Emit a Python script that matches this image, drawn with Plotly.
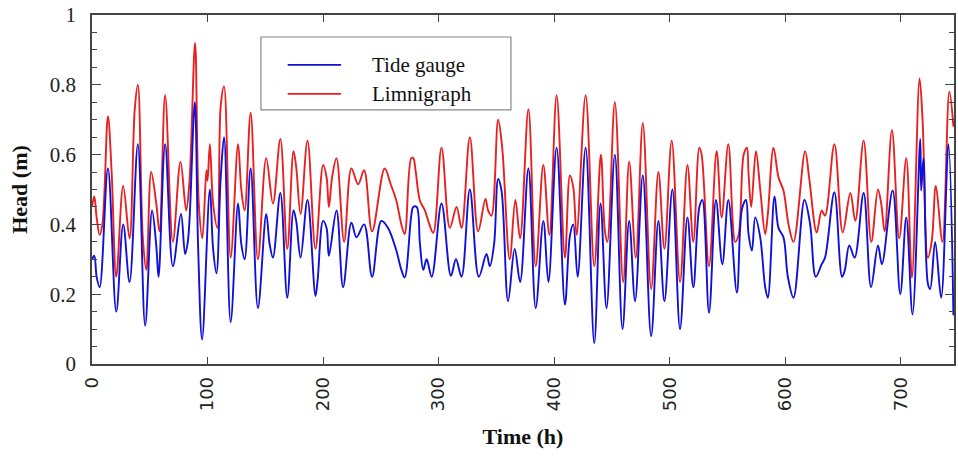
import plotly.graph_objects as go

# ---- data (hour, head in m) ----
tide_hours = [0, 2, 4, 6.6, 13.8, 21, 27, 32.5, 39.7, 46, 52, 55.6, 57.6, 63.3, 70, 77, 80.6, 82.9, 84.5, 89,
              91.8, 95.3, 102, 104.8, 107.7, 111.4, 114.3, 120, 126.4, 129.2, 132.1, 137.3, 143.6, 150.8, 153.7,
              156.6, 163, 169, 174.4, 176.7, 180.5,
              186.5, 193.4, 195.2, 200, 203, 205, 211.6, 217.3, 224.5, 228.9, 235.5, 242.4, 250.4, 256.2, 263.4,
              267.7, 270.6, 276.3,
              278, 281, 283.8, 286.7, 289.6, 294, 302.5, 310.6, 315, 319.8, 327, 334.8, 341.4, 344.3, 348, 351.5,
              354.4, 360.1, 365.8,
              370.5, 377.7, 384, 390.6, 395, 402.1, 409.3, 413.6, 416.5, 420.3, 427.2, 434.7, 440.1, 445.3, 452.5,
              459.1,
              464.9, 470, 476.7, 483.9, 490.2, 495.4, 502.3, 508.9, 515.3, 520.4, 525.6, 528.2, 534, 540, 545.5,
              550.7,
              558.1, 562.5, 566, 568.2, 571.1, 574, 578.3, 582.6, 584.9, 590.7, 594.1, 598.4, 602.2, 607.1, 616.6,
              621.5, 626.4, 631.5, 634.4, 642.5,
              649.1, 651.4, 655.4, 660, 667.8, 674.2, 680.2, 683.6, 692.9, 699.5, 704.7, 710.1, 716.8, 717.6,
              719.6, 723.4, 725.4, 729.7, 734.9, 741.2, 745.5]
tide_head = [0.30, 0.31, 0.25, 0.22, 0.56, 0.15, 0.40, 0.235, 0.63, 0.11, 0.44, 0.34, 0.25, 0.63, 0.28, 0.43, 0.315, 0.35, 0.42, 0.75,
             0.34, 0.07, 0.50, 0.33, 0.26, 0.535, 0.65, 0.12, 0.46, 0.344, 0.30, 0.56, 0.16, 0.43, 0.344,
             0.305, 0.49, 0.19, 0.44, 0.41, 0.305,
             0.47, 0.195, 0.238, 0.41, 0.39, 0.31, 0.44, 0.22, 0.405, 0.363, 0.40, 0.25, 0.41, 0.39, 0.325,
             0.27, 0.248, 0.425,
             0.45, 0.45, 0.344, 0.27, 0.30, 0.25, 0.46, 0.253, 0.30, 0.25, 0.50, 0.25, 0.315, 0.28, 0.344, 0.53,
             0.497, 0.18, 0.33,
             0.235, 0.56, 0.16, 0.41, 0.235, 0.62, 0.17, 0.367, 0.40, 0.25, 0.62, 0.06, 0.46, 0.16, 0.60,
             0.10,
             0.41, 0.18, 0.54, 0.08, 0.41, 0.18, 0.50, 0.10, 0.42, 0.22, 0.45, 0.47, 0.147, 0.47, 0.286,
             0.47,
             0.205, 0.444, 0.47, 0.372, 0.325, 0.42, 0.363, 0.22, 0.19, 0.48, 0.39, 0.363, 0.25, 0.19, 0.47,
             0.40, 0.25, 0.286, 0.305, 0.492,
             0.25, 0.267, 0.34, 0.305, 0.49, 0.22, 0.34, 0.286, 0.497, 0.20, 0.42, 0.142, 0.645, 0.497,
             0.59, 0.23, 0.215, 0.35, 0.19, 0.63, 0.14]

limni_hours = [0, 2, 4, 6.6, 9, 13.8, 17, 21, 27, 32.5, 37, 39.7, 44, 47, 51.2, 55.6, 58.4, 63.3, 70, 76.6, 81.5,
               84.3, 89.2,
               92.4, 95.5, 99, 100, 102, 104.8, 108.5, 111.4, 114.3, 120, 126.4, 129.2, 132.1, 137.3, 143.6, 150.8,
               156.6, 163, 169, 174.4, 176.7, 180.5,
               186.5, 193.4, 200, 203, 205, 207.8, 211.6, 218.2, 224.5, 230.3, 235.5, 242.4, 253.3, 258.5, 263.4,
               267.7, 270.6, 276.3,
               278, 280, 283.8, 288.1, 291, 295.3, 302.5, 309.7, 315.5, 319.8, 327, 334.2, 340.5, 342.8, 345.7,
               351.5, 355, 361.5, 366.4,
               370.5, 377.7, 384, 390.6, 395.8, 402.1, 409.3, 413.6, 416.5, 419.4, 427.2, 434.7, 440.4, 443.9, 446,
               452.5, 459.7,
               464.9, 470.6, 476.7, 483.9, 490.2, 495.4, 501.7, 508.9, 515.3, 520.4, 525.6, 527.6, 534, 540.6,
               544.9, 550.7,
               556.7, 559.6, 564, 566.8, 568.2, 570.5, 574.6, 578.3, 582.6, 584.9, 589.8, 594.1, 598.4, 602.8,
               607.1, 617.2, 620.6, 627.2, 631.5, 634.4, 642.5,
               649.7, 656.3, 660.6, 667.8, 674.4, 680.2, 683, 686, 692.3, 698.6, 704.7, 709.6, 716.2, 718.8, 723.4,
               726.8, 730.3, 736, 742, 745.5]
limni_head = [0.45, 0.48, 0.42, 0.37, 0.40, 0.71, 0.55, 0.25, 0.51, 0.36, 0.73, 0.80, 0.36, 0.27, 0.55, 0.46, 0.38, 0.77, 0.35, 0.58, 0.44,
              0.52, 0.92,
              0.46, 0.36, 0.555, 0.525, 0.63, 0.46, 0.39, 0.74, 0.795, 0.305, 0.63, 0.50, 0.44, 0.72, 0.30, 0.59,
              0.46, 0.645, 0.33, 0.61, 0.565, 0.43,
              0.64, 0.33, 0.57, 0.535, 0.45, 0.535, 0.59, 0.35, 0.56, 0.515, 0.555, 0.38, 0.56, 0.515, 0.468,
              0.40, 0.372, 0.59,
              0.59, 0.555, 0.468, 0.44, 0.41, 0.376, 0.62, 0.39, 0.45, 0.39, 0.65, 0.38, 0.473, 0.44, 0.425,
              0.70, 0.62, 0.30, 0.47,
              0.36, 0.73, 0.28, 0.57, 0.37, 0.77, 0.305, 0.54, 0.506, 0.37, 0.77, 0.28, 0.60, 0.38, 0.35,
              0.75, 0.235,
              0.58, 0.305, 0.69, 0.215, 0.55, 0.33, 0.64, 0.235, 0.57, 0.35, 0.62, 0.60, 0.28, 0.61,
              0.42, 0.63,
              0.35, 0.37, 0.60, 0.62, 0.545, 0.45, 0.61, 0.50, 0.372, 0.43, 0.62, 0.535, 0.497, 0.40,
              0.35, 0.61, 0.535, 0.377, 0.44, 0.425, 0.63,
              0.377, 0.49, 0.41, 0.64, 0.35, 0.50, 0.46, 0.38, 0.67, 0.36, 0.59, 0.248, 0.818, 0.70, 0.305,
              0.353, 0.51, 0.35, 0.78, 0.68]

x_tick_vals = [0, 100, 200, 300, 400, 500, 600, 700]
y_tick_vals = [0, 0.2, 0.4, 0.6, 0.8, 1]
y_tick_text = ["0", "0.2", "0.4", "0.6", "0.8", "1"]
series_names = ["Tide gauge", "Limnigraph"]

BLUE = "#1010d8"
RED = "#e82020"
FRAME = "#444444"
SERIF = "Liberation Serif, Times New Roman, serif"

fig = go.Figure()
fig.add_trace(go.Scatter(x=limni_hours, y=limni_head, mode="lines", name=series_names[1],
                         line=dict(color=RED, width=1.9, shape="spline", smoothing=1.0),
                         showlegend=False))
fig.add_trace(go.Scatter(x=tide_hours, y=tide_head, mode="lines", name=series_names[0],
                         line=dict(color=BLUE, width=1.9, shape="spline", smoothing=1.0),
                         showlegend=False))

# custom legend (box, sample lines, labels) in paper coordinates
fig.add_shape(type="rect", xref="paper", yref="paper", x0=0.196, x1=0.486, y0=0.728, y1=0.937,
              line=dict(color="#888888", width=1.2), fillcolor="white", layer="above")
for i, (nm, col) in enumerate(zip(series_names, [BLUE, RED])):
    yy = 0.857 - i * 0.083
    fig.add_shape(type="line", xref="paper", yref="paper", x0=0.227, x1=0.289, y0=yy, y1=yy,
                  line=dict(color=col, width=1.8), layer="above")
    fig.add_annotation(xref="paper", yref="paper", x=0.323, y=yy, text=nm, showarrow=False,
                       xanchor="left", yanchor="middle",
                       font=dict(family=SERIF, size=21, color="#111111"))

fig.update_xaxes(range=[0, 746], tickmode="array", tickvals=x_tick_vals,
                 ticks="inside", ticklen=7, tickwidth=1, tickcolor=FRAME,
                 showline=True, linecolor=FRAME, linewidth=1.5, mirror="ticks",
                 showgrid=False, zeroline=False, tickangle=-90,
                 tickfont=dict(family="DejaVu Sans, Verdana, sans-serif", size=18, color="#222222"),
                 ticklabelstandoff=4,
                 title=dict(text="<b>Time (h)</b>", standoff=18,
                            font=dict(family=SERIF, size=22, color="#111111")))
fig.update_yaxes(range=[0, 1], tickmode="array", tickvals=y_tick_vals, ticktext=y_tick_text,
                 ticks="inside", ticklen=9, tickwidth=1, tickcolor=FRAME,
                 minor=dict(dtick=0.05, ticks="inside", ticklen=5, tickcolor=FRAME, showgrid=False),
                 showline=True, linecolor=FRAME, linewidth=1.5, mirror="ticks",
                 showgrid=False, zeroline=False,
                 tickfont=dict(family=SERIF, size=21, color="#222222"),
                 ticklabelstandoff=10,
                 title=dict(text="<b>Head (m)</b>", standoff=16,
                            font=dict(family=SERIF, size=22, color="#111111")))

fig.update_layout(width=958, height=459, margin=dict(l=92, r=2, t=15, b=95),
                  paper_bgcolor="white", plot_bgcolor="white", showlegend=False)

fig.write_html("out.html")
